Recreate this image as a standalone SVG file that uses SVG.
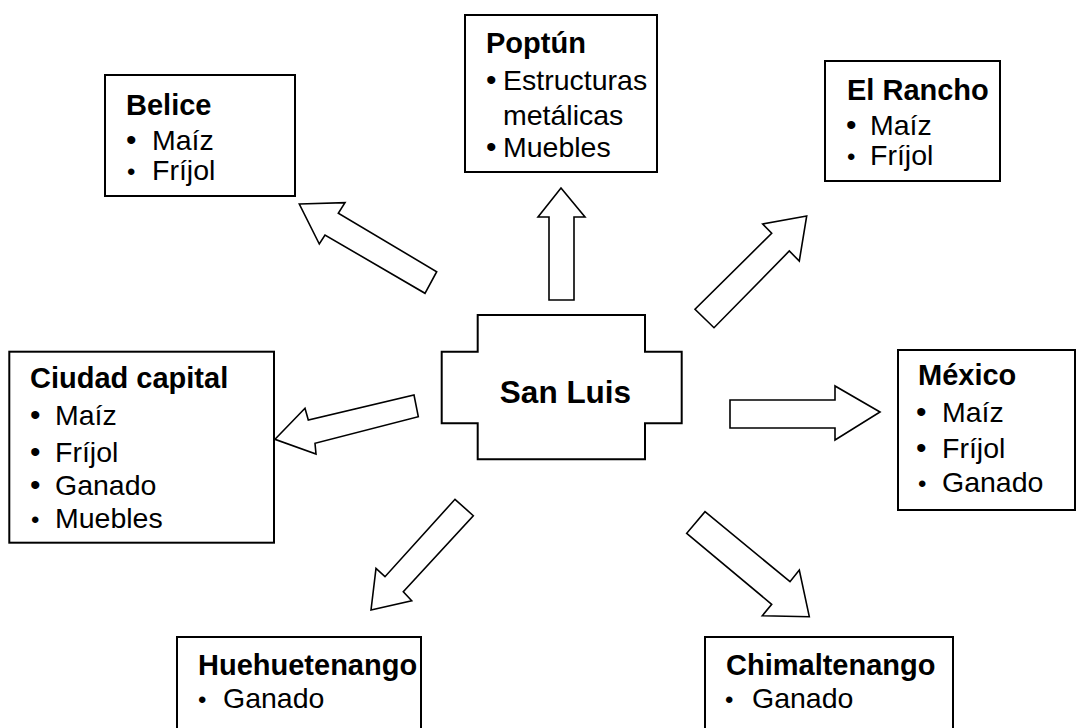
<svg xmlns="http://www.w3.org/2000/svg" width="1076" height="728" viewBox="0 0 1076 728">
<style>
.box{fill:#fff;stroke:#000;stroke-width:2}
.arr{fill:#fff;stroke:#000;stroke-width:1.6;stroke-linejoin:miter}
text{font-family:"Liberation Sans",Arial,sans-serif;font-size:28.5px;fill:#000}
.t{font-weight:bold;font-size:29px}
.bb{font-size:30px}
.sb{font-size:24px}
</style>
<rect width="1076" height="728" fill="#fff"/>
<g id="connectors">
<polygon class="arr" points="299.3,204 345,202.7 338.3,213.3 436.7,271.7 425,293.3 325,235 319.3,244"/>
<polygon class="arr" points="561,188 585,217 574,217 574,300 549,300 549,217 538,217"/>
<polygon class="arr" points="806.7,216 762.7,224 771.7,233.3 695,309.3 714,327.7 789.3,251 799.3,261"/>
<polygon class="arr" points="275,439.3 305,408.3 308.3,420 414,395 418.3,416.7 315,443.3 316,454"/>
<polygon class="arr" points="880,412 835,386 835,400 730,400 730,428 835,428 835,440"/>
<polygon class="arr" points="371,610 376,568.3 385,576.7 455,499.3 473.3,515.7 403.3,591.7 411.7,600.7"/>
<polygon class="arr" points="809.3,616.7 762.3,615.7 771.7,604.3 686.7,533.3 705,511.7 790,581.7 799.3,570"/>
</g>
<g id="san-luis">
<polygon class="box" points="477.7,315 645,315 645,351.7 681.7,351.7 681.7,423.3 645,423.3 645,459.3 477.7,459.3 477.7,423.3 441.7,423.3 441.7,351.7 477.7,351.7"/>
<text class="t" x="565.5" y="403.3" text-anchor="middle" style="font-size:31.5px">San Luis</text>
</g>
<g id="belice">
<rect class="box" x="105" y="75" width="190" height="121"/>
<text class="t" x="126" y="115">Belice</text>
<text class="bb" x="126" y="150">•</text><text x="152" y="150">Maíz</text>
<text class="sb" x="127" y="180">•</text><text x="152" y="180">Fríjol</text>
</g>
<g id="poptun">
<rect class="box" x="465" y="15" width="192" height="157"/>
<text class="t" x="486" y="53">Poptún</text>
<text class="bb" x="486" y="90">•</text><text x="503" y="90">Estructuras</text>
<text x="503" y="125">metálicas</text>
<text class="bb" x="486" y="157">•</text><text x="503" y="157">Muebles</text>
</g>
<g id="el-rancho">
<rect class="box" x="825" y="61" width="175" height="120"/>
<text class="t" x="847" y="100">El Rancho</text>
<text class="bb" x="846" y="135">•</text><text x="870" y="135">Maíz</text>
<text class="sb" x="847" y="165">•</text><text x="870" y="165">Fríjol</text>
</g>
<g id="ciudad-capital">
<rect class="box" x="9.3" y="351.7" width="264.7" height="191"/>
<text class="t" x="30" y="388">Ciudad capital</text>
<text class="bb" x="30" y="425">•</text><text x="55" y="425">Maíz</text>
<text class="bb" x="30" y="461.7">•</text><text x="55" y="461.7">Fríjol</text>
<text class="bb" x="30" y="495">•</text><text x="55" y="495">Ganado</text>
<text class="sb" x="31" y="528">•</text><text x="55" y="528">Muebles</text>
</g>
<g id="mexico">
<rect class="box" x="898" y="350" width="177" height="160"/>
<text class="t" x="918" y="385">México</text>
<text class="bb" x="916" y="421.7">•</text><text x="942" y="421.7">Maíz</text>
<text class="bb" x="916" y="458">•</text><text x="942" y="458">Fríjol</text>
<text class="sb" x="918" y="491.7">•</text><text x="942" y="491.7">Ganado</text>
</g>
<g id="huehuetenango">
<rect class="box" x="177" y="637" width="244" height="100"/>
<text class="t" x="198" y="675">Huehuetenango</text>
<text class="sb" x="198" y="708">•</text><text x="223" y="708">Ganado</text>
</g>
<g id="chimaltenango">
<rect class="box" x="705" y="637" width="248" height="100"/>
<text class="t" x="726" y="675">Chimaltenango</text>
<text class="sb" x="725" y="708">•</text><text x="752" y="708">Ganado</text>
</g>
</svg>
